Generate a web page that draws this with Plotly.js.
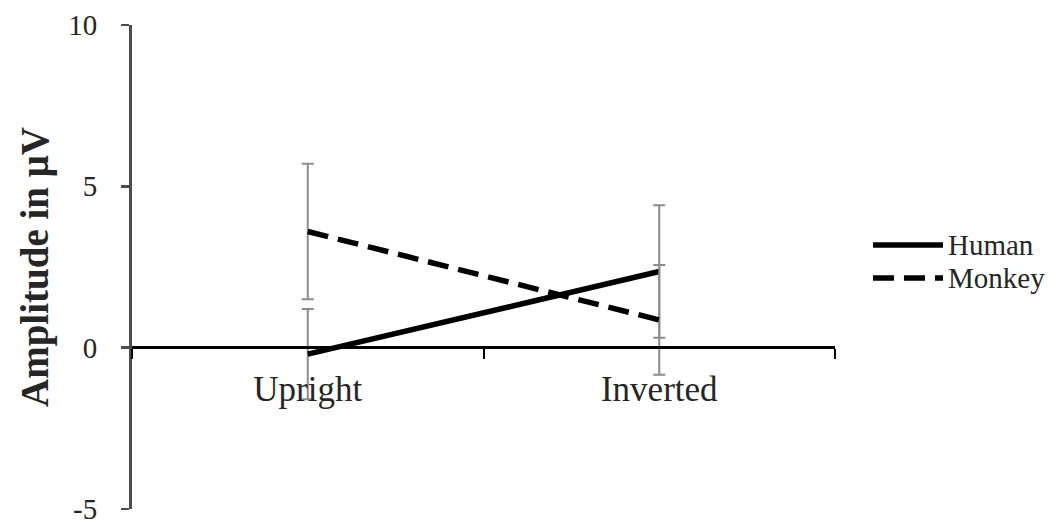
<!DOCTYPE html>
<html>
<head>
<meta charset="utf-8">
<script src="https://cdn.plot.ly/plotly-3.0.1.min.js"></script>
<style>html,body{margin:0;padding:0;background:#fff;}#chart{width:1053px;height:524px;}</style>
</head>
<body>
<div id="chart"></div>
<script>
const categories = ["Upright", "Inverted"];
const seriesNames = ["Human", "Monkey"];
const humanValues = [-0.2, 2.36];
const humanErrors = [1.4, 2.05];
const monkeyValues = [3.6, 0.86];
const monkeyErrors = [2.1, 1.7];
const yTickValues = [-5, 0, 5, 10];
const yTickLabels = ["-5", "0", "5", "10"];

const serif = "'Liberation Serif', 'Times New Roman', serif";
const dashes = ["solid", "21px,10px"];

const traces = [
  {
    type: "scatter", mode: "lines", name: seriesNames[0],
    x: categories, y: humanValues,
    line: {color: "#000000", width: 5.5, dash: dashes[0]},
    error_y: {type: "data", array: humanErrors, visible: true, color: "#8c8c8c", thickness: 2, width: 6}
  },
  {
    type: "scatter", mode: "lines", name: seriesNames[1],
    x: categories, y: monkeyValues,
    line: {color: "#000000", width: 5.5, dash: dashes[1]},
    error_y: {type: "data", array: monkeyErrors, visible: true, color: "#8c8c8c", thickness: 2, width: 6}
  }
];

// Legend drawn as shapes + text (long sample lines like the original)
const legendY = [0.5455, 0.4773];
const shapes = seriesNames.map((n, i) => ({
  type: "line", xref: "paper", yref: "paper",
  x0: 1.054, x1: 1.1536, y0: legendY[i], y1: legendY[i],
  line: {color: "#000000", width: 5.5, dash: dashes[i]}
}));
const annotations = seriesNames.map((n, i) => ({
  text: n, xref: "paper", yref: "paper", x: 1.158, y: legendY[i],
  xanchor: "left", yanchor: "middle", showarrow: false,
  font: {family: serif, size: 29, color: "#262626"}
}));

const layout = {
  width: 1053, height: 524,
  margin: {l: 132, r: 218, t: 25, b: 15, autoexpand: false},
  paper_bgcolor: "#ffffff", plot_bgcolor: "#ffffff",
  font: {family: serif, color: "#262626"},
  showlegend: false,
  shapes: shapes,
  annotations: annotations,
  xaxis: {
    type: "category", range: [-0.5, 1.5],
    anchor: "free", position: 0.3347,
    showline: true, linecolor: "#000000", linewidth: 2.5,
    ticks: "outside", tickson: "boundaries", ticklen: 10, tickwidth: 2, tickcolor: "#000000",
    ticklabelstandoff: 10,
    showgrid: false, zeroline: false,
    tickfont: {family: serif, size: 35, color: "#262626"}
  },
  yaxis: {
    range: [-5, 10], tickmode: "array", tickvals: yTickValues, ticktext: yTickLabels,
    showline: true, linecolor: "#4d4d4d", linewidth: 3,
    ticks: "outside", ticklen: 8, tickwidth: 2.5, tickcolor: "#4d4d4d",
    ticklabelstandoff: 18, ticklabeloverflow: "allow",
    showgrid: false, zeroline: false,
    tickfont: {family: serif, size: 29, color: "#262626"},
    title: {text: "<b>Amplitude in μV</b>", font: {family: serif, size: 39, color: "#262626"}, standoff: 8}
  }
};

Plotly.newPlot("chart", traces, layout, {displayModeBar: false, staticPlot: true});
</script>
</body>
</html>
